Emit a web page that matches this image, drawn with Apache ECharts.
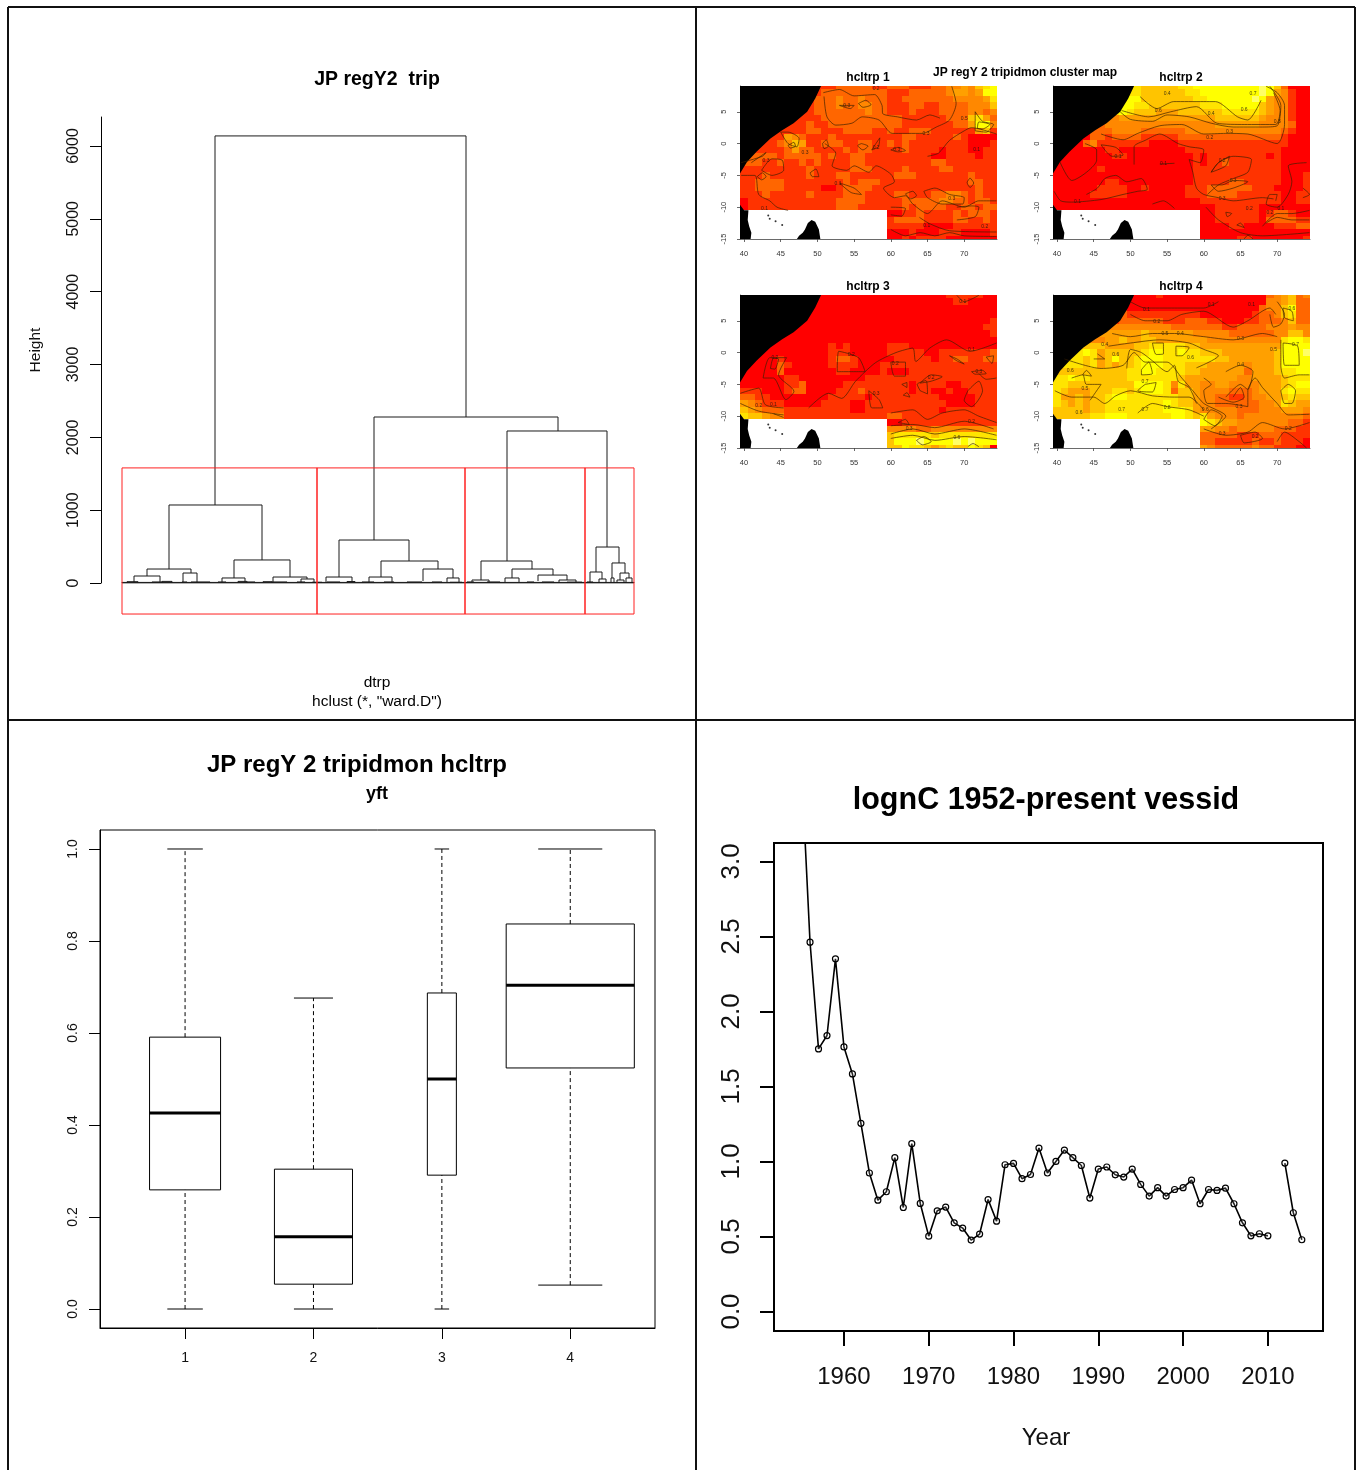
<!DOCTYPE html>
<html><head><meta charset="utf-8"><style>html,body{margin:0;padding:0;background:#fff}#c{width:1359px;height:1470px}</style>
<script src="https://cdn.jsdelivr.net/npm/echarts@6/dist/echarts.min.js"></script></head>
<body><div id="c"></div><script>
const FONT='"Liberation Sans",Arial,sans-serif';
/* ---------- dendrogram: [leftLeaf, rightLeaf, height, leftChildHeight, rightChildHeight] ---------- */
const dendroMerges=[
[93,344,6138,1071,2279],[47,140,1071,192,316],[252,436,2279,590,2087],[217,287,590,82,302],[385,485,2087,302,494],
[359,410,302,41,192],[474,497,494,151,275],[25,69,192,96,137],[12,38,96,14,14],[61,75,137,14,14],[112,168,316,69,82],
[100,123,69,14,14],[151,185,82,14,55],[179,192,55,10,10],[204,230,82,14,14],[259,316,302,82,192],[247,270,82,14,14],
[301,331,192,27,69],[325,337,69,14,14],[350,367,41,8,8],[390,431,192,69,109],[383,397,69,14,14],[416,445,109,27,41],
[437,454,41,8,8],[468,480,151,14,55],[490,503,275,69,137],[489,492,69,0,0],[498,507,137,41,69],[495,502,41,0,0],
[504,510,69,0,0],[465,471,14,0,0],[477,484,55,0,0],
[5,16,18,0,0],[30,40,14,0,0],[40,50,22,0,0],[60,65,14,0,0],[69,88,14,0,0],[96,104,14,0,0],[116,125,22,0,0],[125,133,14,0,0],
[141,150,18,0,0],[150,165,14,0,0],[175,183,14,0,0],[190,200,10,0,0],[205,218,14,0,0],[225,233,20,0,0],[240,252,14,0,0],
[262,272,14,0,0],[285,300,14,0,0],[310,320,14,0,0],[328,340,10,0,0],[345,352,14,0,0],[365,378,14,0,0],[405,412,14,0,0],
[420,432,14,0,0],[445,460,12,0,0],[0,512,2,0,0],[0,512,8,0,0]];
const dendroCuts=[0,195,343,463,512];
const dendroRectTop=1580, dendroRectBottom=-426;
/* ---------- boxplot ---------- */
const boxGroups=[1,2,3,4];
const boxMin=[0,0,0,0.052];
const boxQ1=[0.259,0.054,0.291,0.524];
const boxMedian=[0.426,0.157,0.5,0.704];
const boxQ3=[0.591,0.304,0.687,0.837];
const boxMax=[1,0.676,1,1];
const boxWidths=[0.553,0.608,0.226,0.998];
/* ---------- lognC ---------- */
const lognYears=[1955,1956,1957,1958,1959,1960,1961,1962,1963,1964,1965,1966,1967,1968,1969,1970,1971,1972,1973,1974,1975,1976,1977,1978,1979,1980,1981,1982,1983,1984,1985,1986,1987,1988,1989,1990,1991,1992,1993,1994,1995,1996,1997,1998,1999,2000,2001,2002,2003,2004,2005,2006,2007,2008,2009,2010,2011,2012,2013,2014];
const lognC=[3.62,2.461,1.75,1.839,2.35,1.763,1.583,1.254,0.923,0.742,0.798,1.025,0.693,1.118,0.72,0.502,0.671,0.696,0.591,0.556,0.476,0.516,0.746,0.602,0.978,0.987,0.885,0.913,1.089,0.923,1.0,1.076,1.025,0.973,0.756,0.949,0.963,0.911,0.896,0.949,0.847,0.769,0.825,0.769,0.813,0.825,0.876,0.718,0.813,0.807,0.822,0.718,0.591,0.504,0.518,0.504,null,0.989,0.658,0.478];
/* ---------- maps: rows from lat 9 down to lat -15, columns lon 40..74, digit = level ---------- */
const mapLevelColors={1:'#FF0000',2:'#FF3300',3:'#FF6600',4:'#FF8800',5:'#FFA000',6:'#FFC400',7:'#FFE400',8:'#FFFF00',9:'#FFFF66'};
const map1Rows=[
"..... ....2 22233 33322 33322 23344 54678","..... ...22 23333 33333 22233 33345 54588","..... ..222 33343 34333 22333 33334 44457",
"..... ..222 33343 34433 22233 22333 34446","..... .2222 33333 33433 22232 22333 34434","..... .2222 23333 33333 33222 22233 36753",
"..... 22223 22333 33333 33222 22223 35884","....2 22223 32223 33322 32233 32222 22562","...22 25432 22322 22222 22332 22223 21111",
"..222 34652 23332 23322 32322 22222 21112",".2222 23533 22223 23322 22322 22122 21122","33333 23333 32322 33222 22222 21122 22122",
"33322 32232 32222 33222 22222 23322 22222","22222 22223 22222 33322 22322 22332 22222","22232 22223 22233 22222 23332 22222 23222",
"22333 32222 22223 23332 22222 22222 23322","22333 32222 21123 33322 22222 22222 22322","22232 22223 22223 33222 23322 23344 32322",
"12222 22222 22233 33222 22333 33443 32332","12222 22222 22233 32222 22323 33322 33233","..... ..... ..... ..... 11223 22223 23332",
"..... ..... ..... ..... 23333 22223 32232","..... ..... ..... ..... 22222 11112 22222","..... ..... ..... ..... 11121 11222 11112",
"..... ..... ..... ..... 11212 22211 11111"];
const map2Rows=[
"..... ....7 77666 66778 88888 88898 63111","..... ...77 77666 66677 88888 88898 54211","..... ..777 88666 66667 78888 88985 44211",
"..... ..888 87766 66666 77788 88865 44211","..... .7778 76665 55666 66677 77765 44211","..... 44445 55555 55555 55666 66654 44211",
"....3 33444 44444 44444 44555 55544 44311","...33 33344 44333 33344 44444 44444 43211","..111 33233 33222 22333 33333 33333 32111",
".1113 42222 22211 11222 22222 22222 22111",".1111 11221 11111 11122 22222 22222 21111","11111 11122 11111 11112 12222 22221 21111",
"11111 11111 11111 11112 12232 22222 21111","11111 12111 11111 11112 22222 22222 21111","11111 11111 11111 11112 22222 22222 21112",
"11111 11221 11111 11112 22223 32222 21112","11111 12222 11211 11122 23333 33222 11112","11111 22222 11111 11122 23333 22222 21122",
"11111 11111 11111 11111 22222 22222 21122","11111 11111 11111 11111 11222 22211 11111","..... ..... ..... ..... 11222 22212 33211",
"..... ..... ..... ..... 11222 22213 33322","..... ..... ..... ..... 11112 21111 22233","..... ..... ..... ..... 11111 11111 11111",
"..... ..... ..... ..... 11111 22111 11112"];
const map3Rows=[
"..... ....1 11111 11111 11111 11122 22211","..... ...11 11111 11111 11111 11112 21111","..... ..111 11111 11111 11111 11111 11111",
"..... ..111 11111 11111 11111 11111 11111","..... .1111 11111 11111 11111 11111 11112","..... .1111 11111 11111 11111 11111 11122",
"..... 11111 11111 11111 11111 11111 11112","....1 11111 11111 11111 11111 11111 11111","...11 11111 11212 11111 22211 11111 11111",
"..111 11111 11222 11111 22222 11222 22223",".1111 21111 11233 21111 12222 21223 32233","11111 32111 11222 21112 22222 22222 22222",
"11111 31111 11122 11112 11122 22222 22222","11111 12211 11111 11222 22222 22222 22222","11111 12231 11112 22222 22212 22211 22222",
"22211 12331 11122 23222 22212 21121 12222","33221 11111 11222 22122 22222 22111 11222","54322 21111 12222 11222 22222 22211 11222",
"65433 32222 22222 11222 22222 22122 22222","76654 42222 22222 22222 33222 22222 22222","..... ..... ..... ..... 11222 22222 22222",
"..... ..... ..... ..... 44443 34444 44444","..... ..... ..... ..... 67777 76777 77777","..... ..... ..... ..... 68889 88889 89888",
"..... ..... ..... ..... 66877 65676 68761"];
const map4Rows=[
"..... ....1 11112 11111 11111 11113 45634","..... ...11 11111 11111 11111 11114 45633","..... ..222 11111 11111 11111 11134 46833",
"..... ..333 22222 22222 11111 11233 46733","..... .2223 33333 22233 32211 12233 34633","..... 44444 44444 43333 33322 33334 44544",
"....5 55555 55655 55554 44443 33333 44664","...44 44556 55665 55555 54444 44444 47887","..666 66555 56677 77766 55555 55555 58888",
".7778 75666 66788 77877 66655 55555 68889",".7776 75686 67888 77777 77665 55555 68888","77776 75656 67888 77766 65555 54555 68888",
"66666 66666 77887 77766 55555 53555 67788","77877 66666 77777 77655 55555 44555 56777","77666 66666 68888 74755 44554 44455 56788",
"76555 66677 67888 73665 44443 33455 57877","75565 66788 77777 77665 44332 23445 56766","76565 66777 77777 87665 44333 33344 57655",
"66665 66777 77777 88875 44444 33344 45554","66666 77888 77777 78876 75444 34444 44443","..... ..... ..... ..... 87655 44444 44332",
"..... ..... ..... ..... 55443 44444 33322","..... ..... ..... ..... 33333 22233 32222","..... ..... ..... ..... 33222 22322 32221",
"..... ..... ..... ..... 54333 33433 22211"];
const mapLons=[40,41,42,43,44,45,46,47,48,49,50,51,52,53,54,55,56,57,58,59,60,61,62,63,64,65,66,67,68,69,70,71,72,73,74];
const mapLats=[9,8,7,6,5,4,3,2,1,0,-1,-2,-3,-4,-5,-6,-7,-8,-9,-10,-11,-12,-13,-14,-15];
const mapLonTicks=[40,45,50,55,60,65,70];
const mapLatTicks=[-15,-10,-5,0,5];
const landPolygons=[
[[39.45,9.05],[50.5,9.05],[49.7,7.1],[48.6,5],[46.75,3.2],[45.2,2.1],[43.6,0.8],[41.7,-1.3],[40.4,-2.9],[39.45,-4.7]],
[[39.45,-9.6],[40,-10.5],[40.6,-10.5],[40.5,-12],[40.7,-13],[41,-14],[40.9,-15],[39.45,-15]],
[[47.2,-15],[47.5,-14.5],[48,-14],[48.3,-13.5],[48.7,-12.5],[49.2,-12],[49.7,-12.3],[50.2,-13.5],[50.4,-15]]];
const comoros=[[43.3,-11.3],[43.5,-11.8],[44.3,-12.2],[45.2,-12.8]];
const map1Contours=[
[[50.9,7.4],[51.3,4.2],[52.5,2.9],[54.7,3.2],[56.1,4.2],[58.4,3.7],[60.2,1.6],[64.3,1.6],[66.2,2.6],[68,3.7],[68.9,6.3],[68.3,9]],
[[50.8,8],[53,8.5],[55,7.5],[57.8,7.7],[58.8,6],[58.9,4.7],[60.9,4.2],[63.5,3.7],[65.3,4.5],[66.7,4]],
[[51,0],[52.5,-1.5],[52,-3.5],[54,-4.2],[55,-3.5],[57,-4.5],[58,-3.5],[60,-4.8],[60.5,-6],[59,-7],[60.5,-8.5],[62,-8.2],[63,-9.5],[65,-11],[67,-9],[70,-10],[72,-9],[74.4,-9]],
[[65,-2],[66.5,-1.5],[68,0.5],[70,2],[71,2.5],[74.4,1.5]],
[[39.6,-5],[41.5,-5],[42,-8],[43.5,-9],[44.5,-10],[46,-10.5]],
[[42.4,-4.2],[43.8,-2.4],[45.2,-2.6],[45.4,-4.2],[43.8,-5],[42.4,-4.2]],
[[63.9,-11.6],[65.3,-12.6],[68,-13.7],[74.4,-13.9]],
[[71.5,2],[71.5,3.5],[71.5,5],[72.5,3.5],[74,3],[73,1.8],[71.5,2]],
[[71.8,2.4],[72,3.4],[73.5,3],[72.5,2.3],[71.8,2.4]],
[[64.5,-7.5],[66,-7],[68,-8],[70,-8.5],[69.8,-9.5],[67,-9.5],[65,-8.5],[64.5,-7.5]],
[[45,1.8],[46,0],[47.2,-0.5],[47.5,0.8],[46,1.8],[45,1.8]],
[[46,-0.3],[46.8,0.2],[47,-0.4],[46.3,-0.7],[46,-0.3]],
[[55.6,6.3],[56.6,6.8],[57.3,6.1],[56.2,5.7],[55.6,6.3]],[[53,6],[55,6],[54.5,5.5],[53,6]],
[[56,0],[56.9,-0.4],[56.2,-1],[55.5,-0.3],[56,0]],[[50.7,0],[51.2,0.6],[51.5,-0.4],[50.9,-0.8],[50.7,0]],
[[60,-1],[61,-0.6],[62,-1.1],[61,-1.3],[60,-1]],[[57.4,-1],[58.3,-0.5],[58.5,0.9],[57.8,-0.3],[57.4,-1]],
[[41.8,-5.2],[42.5,-4.6],[43,-5.2],[42.4,-5.7],[41.8,-5.2]],[[39.6,-3],[42.5,-2],[43,-1.4],[41,-3]],
[[53,-6.2],[55,-7],[56,-8],[54.6,-7.7],[53,-6.2]],[[49,-4.6],[49.8,-4],[50.2,-5.2],[49.3,-5.2],[49,-4.6]],
[[70.8,-5.4],[71.3,-6.2],[70.8,-6.9],[70.4,-6.1],[70.8,-5.4]],[[62,-7.9],[63,-7.5],[63.5,-8.2],[62.7,-8.7],[62,-7.9]],
[[60,-10],[62,-10.2],[61.5,-11.4],[60,-11.2]],[[69,-10],[71,-9.8],[72,-10],[71.5,-11.5],[69,-12]],[[60,-13.5],[62,-14.5],[64,-14],[66,-14.5],[68,-14],[70,-14.5],[74.4,-14.6]]];
const map2Contours=[
[[51.3,7.4],[53.6,5.5],[55.9,6.6],[60,6.6],[61.6,6.6],[64.6,4.2],[66,3.7],[67.8,6.8]],
[[48.8,5.2],[52.5,4.2],[55.5,5],[59,5.8],[61.8,3.2],[65.5,3],[69.8,3],[70.4,5.2],[69.5,8]],
[[48.6,5],[50,3.8],[53,3.5],[55,4.5],[58,4.2],[61,3.2],[64,2.6],[68,2.6],[70,2.8],[70.5,6],[69,9]],
[[46,1.5],[49,0.6],[51,1.6],[54,2.8],[57,3],[60,1.5],[63,1.6],[66,1.5],[70,0],[71,3],[71,6],[70,8],[68.5,9]],
[[50.5,-3.3],[50.5,-0.5],[52,0.5],[54,1.5],[56.5,0],[58,-0.5],[60,-1],[59.5,-3],[58,-2.5],[58.5,-4.5],[59,-7],[60,-8],[62,-8.5],[64,-9],[68,-8.5],[69.5,-8.7]],
[[40.4,-2.9],[42,-5.8],[45.4,-2.6],[45.4,-1],[43.8,0]],[[46,-0.2],[48,-0.6],[49,-1.8],[47.5,-2],[46,-0.2]],
[[39.6,-7.5],[40.5,-9],[42,-9.2],[46,-8.8],[49,-8],[51,-7.5],[52.3,-7.2],[51.5,-5.5],[49.5,-6],[48,-5],[46.5,-5.5],[45.5,-7],[44,-8]],
[[60.5,-8],[62,-6.5],[64,-5.5],[66,-4.5],[66.5,-2.5],[64,-2],[62,-3],[61,-4.5]],
[[61,-6.5],[62.5,-6.5],[64,-5.8],[66,-6],[64,-7],[62,-7.5],[61,-6.5]],[[61,-4.5],[62,-3],[63.5,-2],[63,-3.5],[61,-4.5]],
[[74,-3],[71.5,-3.5],[72,-6],[71.5,-8],[70,-10],[68.5,-9.5],[69,-8],[70,-8],[69.8,-9]],
[[60.3,-10],[62,-12],[65,-14],[68,-14.5],[74.4,-14]],[[68,-13],[70,-11],[72,-11],[74.4,-10.5]],[[68.5,-12.5],[70,-11.6],[72,-12],[74.4,-12]],
[[63,-10.8],[63.8,-11],[63.2,-11.5],[63,-10.8]],[[64.5,-12.8],[65.5,-13.2],[65,-12.5],[64.5,-12.8]],[[65.5,-15],[66,-14.4],[66.7,-15]],
[[53,-9.5],[54.5,-9],[56,-10.2]],[[73.5,-7],[74.4,-8],[73.5,-8.5]],[[54,-3.2],[56,-3.1]]];
const map3Contours=[
[[48.8,-8.7],[51.5,-6.4],[53.3,-7.2],[55.2,-4.5],[57.9,-1.6],[60.7,0],[63,0.7],[63.4,-1.4],[65.3,0.7],[67.6,2],[70.8,0.2],[74.4,1.5]],
[[42.6,-4],[43.5,-0.8],[45.8,-0.8],[44.7,-3.5],[46.8,-6.1],[45.7,-7.4],[44,-4],[42.6,-4]],[[43.6,-2.5],[44,-0.9],[44.7,-1],[44.2,-2.6],[43.6,-2.5]],
[[52.7,-3],[52.9,0.2],[55.6,-0.8],[56.5,-3],[52.7,-3]],[[57,-6],[58.4,-7.4],[58.9,-8.7],[57.4,-8.7],[57,-6]],
[[39.5,-6.4],[42,-5.6],[42.9,-8.2],[45.4,-8.7]],[[39.5,-8],[42,-9.2],[45.4,-9.8]],[[44,-9.6],[45.4,-10.2]],
[[60,-11.5],[63,-11.3],[66,-11.8],[70,-10.8],[74,-12]],[[60,-12.8],[63,-12],[66,-12.8],[70,-12],[74.4,-13]],[[60,-13.5],[63,-13],[66,-13.8],[70,-13.2],[74.4,-13.7]],
[[60,-9.5],[63,-9],[65,-10.5],[67,-9.5],[70,-9],[72,-10],[74.4,-11]],[[61,-11],[62,-10.5],[62.5,-11.3],[61,-11]],
[[70.5,-6],[72,-4.5],[72.5,-6],[71,-8.5],[70,-7.5],[70.5,-6]],[[69,9],[70,8],[72,9]],[[68,-0.5],[69,-1],[70,-1.8],[69,-1.3],[68,-0.5]],
[[60,-1.5],[62,-1.5],[62,-3.7],[60.5,-3.7],[60,-1.5]],[[64,-4.8],[65.5,-3.5],[67,-3.8],[65.5,-4.5],[64,-4.8]],[[64,-6],[63.6,-5],[64.8,-4.4],[65,-6.5],[64,-6]],
[[71,-3],[72.5,-2.8],[73,-3.3],[71.5,-3.4],[71,-3]],[[72,-3.3],[73,-4.2],[74.4,-4]],[[73,-0.7],[74,-0.5],[73.8,-1.7],[73,-0.7]],[[61.5,-5],[62.2,-4.7],[62.2,-5.5],[61.5,-5]],[[61.7,-6.7],[62.2,-6.3],[62.6,-7],[61.7,-6.7]],
[[63.5,-13.8],[64.5,-13.2],[65.5,-14],[64.3,-14.5],[63.5,-13.8]],[[70.5,-14.8],[71.2,-14.3],[72,-14.8]]];
const map4Contours=[
[[50,8],[52,7],[56,7],[60,7],[62,8]],[[50,6],[52,5],[55,5],[57,6],[60,6.5],[64,4],[66,5],[69,7],[69.8,6]],
[[47.5,3],[50,2.5],[53,3],[56,3],[60,2.5],[64,2],[68,3],[70,2.5]],
[[47,1],[50,1.5],[54,2],[58,1.5],[60,0.5],[62,-0.5],[59,-2.4]],
[[41,-1],[46,-2.5],[49,-2],[50.5,0],[52,-1.5],[55,-1.5],[57,-4],[58.5,-6],[60,-8],[63,-10],[61,-12]],
[[49.5,-2.5],[50,0.5],[51.5,0],[53,-1.3],[55,-3],[56,-2],[56.5,-4.5],[58,-5.5],[59,-8]],
[[39.7,-6],[42,-7],[45,-7],[46.5,-8],[48,-6.8],[50,-6],[53,-6.8],[56,-7],[58,-7],[60,-9]],
[[51,-9.5],[53,-8],[55,-8.5],[58,-9],[60,-10]],[[42,-4],[43.5,-3.5],[44,-5],[46,-5],[44.5,-7.5]],
[[43.5,-3.5],[44,-2.8],[44.7,-3.7],[43.5,-3.5]],[[51.5,-2.7],[52.5,-1.5],[53,-3.3],[51.5,-3.5],[51.5,-2.7]],
[[53,1.5],[54.5,1.5],[54.5,-0.2],[53.5,-0.3],[53,1.5]],[[56.2,1],[58,0.8],[57,-0.5],[56.2,-0.5],[56.2,1]],[[52,-5],[53.5,-4.7],[53,-6.2],[51,-6],[52,-5]],
[[60,-4],[61,-5],[60,-6],[60.5,-8],[63,-8],[66,-8.5],[66,-6],[67,-4],[68,-5.5],[70,-8],[71.5,-9.8],[74.4,-9.7]],
[[62,-7],[64,-7.8],[65.5,-7],[65,-5.5],[64,-7]],[[60,-10.5],[61,-9],[62.5,-10],[61.5,-11.5],[60,-10.5]],
[[70.5,2],[70.5,-2],[71,-4],[73,-3.5],[74.4,-3.5]],[[70.8,1.5],[71,-2],[73,-2],[72.8,1],[70.8,1.5]],[[70.8,7],[72,6.5],[72.2,5],[71,5.5],[70.8,7]],
[[70,8],[71,6],[70.5,4.5],[69.5,4],[69,6]],[[70.5,-6],[71.5,-5],[72.5,-6],[72,-8],[71,-8],[70.5,-6]],[[60,-12],[63,-13],[66,-12.5],[68,-11],[71,-12],[74.4,-11]],
[[65,-13],[67,-12.5],[68,-13.5],[65.5,-14.2],[65,-13]],[[70,-14],[71,-12.5],[73,-14],[74,-15]],[[63,-7],[65,-5],[66,-5.8],[66.7,-3],[65,-2],[63,-3]],[[45,-1],[46.5,-1],[45.5,-0.2]]];
const map1Labels=[[54,5.9,"0.3"],[64.8,1.5,"0.3"],[58,-0.6,"0.2"],[60.8,-0.9,"0.3"],[43,-2.7,"0.3"],[48.3,-1.5,"0.3"],[52.8,-6.3,"0.1"],[68.3,-8.7,"0.3"],[71.7,-1,"0.1"],[42.8,-10.2,"0.1"],[64.9,-12.9,"0.1"],[72.8,-13,"0.2"],[58,8.6,"0.2"],[70,4,"0.5"]];
const map2Labels=[[55,7.9,"0.4"],[53.8,5.2,"0.6"],[61,4.7,"0.4"],[66.7,7.8,"0.7"],[65.5,5.4,"0.6"],[63.5,1.8,"0.3"],[60.8,1,"0.2"],[62.5,-2.7,"0.2"],[64,-5.9,"0.3"],[62.5,-8.6,"0.3"],[42.8,-9.1,"0.1"],[48.3,-2.1,"0.1"],[70,3.5,"0.3"],[70.5,-10.2,"0.1"],[69,-10.9,"0.2"],[66.2,-10.2,"0.2"],[54.5,-3.1,"0.1"]];
const map3Labels=[[69.8,8,"0.1"],[54.6,-0.4,"0.2"],[60.6,-1.7,"0.2"],[44.2,-0.8,"0.2"],[58,-6.5,"0.3"],[44,-8.2,"0.1"],[42,-8.4,"0.2"],[65.5,-4,"0.2"],[72,-3,"0.3"],[71,0.4,"0.1"],[62.5,-12,"0.3"],[69,-13.4,"0.6"],[71,-10.8,"0.2"]];
const map4Labels=[[52.2,6.8,"0.1"],[66.5,7.6,"0.1"],[61,7.5,"0.1"],[53.6,4.8,"0.2"],[65,2.2,"0.3"],[54.7,3,"0.5"],[56.8,2.9,"0.4"],[69.5,0.5,"0.5"],[58.2,-0.8,"0.6"],[48,-0.4,"0.6"],[41.8,-2.8,"0.6"],[46.5,1.2,"0.4"],[52,-4.6,"0.7"],[43.8,-5.7,"0.5"],[48.8,-9,"0.7"],[52,-8.9,"0.7"],[55,-8.7,"0.8"],[43,-9.4,"0.6"],[60.2,-9,"0.6"],[64.8,-8.5,"0.3"],[62.5,-12.8,"0.3"],[67,-13.2,"0.2"],[71.5,-12,"0.2"],[72,6.9,"0.6"],[72.5,1.2,"0.7"],[65,-1.9,"0.4"]];

/* ---------- layout ---------- */
const grids=[],xAxes=[],yAxes=[],series=[],titles=[];
function px(l,t,r,b){return {left:l,top:t,width:r-l,height:b-t,containLabel:false};}
function addTitle(text,x,yTop,size,weight){titles.push({text,left:x,top:yTop,textAlign:'center',padding:0,textStyle:{fontFamily:FONT,fontSize:size,fontWeight:weight||'normal',color:'#000'}});}
const lineBlack={color:'#000',width:1};
function axisCommon(values,opts){
  return Object.assign({type:'value',splitLine:{show:false},axisLine:{show:true,onZero:false,lineStyle:lineBlack},
    axisTick:{show:true,length:opts.tick,lineStyle:lineBlack,customValues:values},
    axisLabel:{show:true,customValues:values,fontFamily:FONT,fontSize:opts.font,color:opts.color||'#111',margin:opts.margin,rotate:opts.rotate||0,
      hideOverlap:false,formatter:opts.fmt||(v=>String(v))}},opts.extra||{});
}
/* dendrogram */
grids.push(px(122,117,634,583));
xAxes.push({type:'value',min:0,max:512,show:false,gridIndex:0});
yAxes.push(axisCommon([0,1000,2000,3000,4000,5000,6000],{tick:11,font:16,margin:19,rotate:90,extra:{gridIndex:0,min:0,max:6398,offset:21,name:'Height',nameLocation:'middle',nameGap:57,nameRotate:90,nameTextStyle:{fontFamily:FONT,fontSize:15.5,color:'#111'}}}));
series.push({type:'custom',name:'dendrogram',xAxisIndex:0,yAxisIndex:0,coordinateSystem:'cartesian2d',clip:false,silent:true,
  data:dendroMerges,encode:{x:[0,1],y:2},
  renderItem(p,api){
    const a=api.coord([api.value(0),api.value(3)]),b=api.coord([api.value(0),api.value(2)]),c=api.coord([api.value(1),api.value(2)]),d=api.coord([api.value(1),api.value(4)]);
    return {type:'polyline',shape:{points:[a,b,c,d]},style:{stroke:'#1a1a1a',lineWidth:1,fill:null}};
  }});
series.push({type:'custom',name:'cutRects',xAxisIndex:0,yAxisIndex:0,coordinateSystem:'cartesian2d',clip:false,silent:true,
  data:dendroCuts.slice(0,-1).map((v,i)=>[v,dendroCuts[i+1],dendroRectBottom,dendroRectTop]),encode:{x:[0,1],y:[2,3]},
  renderItem(p,api){
    const a=api.coord([api.value(0),api.value(3)]),b=api.coord([api.value(1),api.value(2)]);
    return {type:'rect',shape:{x:a[0],y:a[1],width:b[0]-a[0],height:b[1]-a[1]},style:{stroke:'#ff2020',fill:null,lineWidth:1}};
  }});
/* boxplot */
grids.push(Object.assign(px(100,830,655,1328),{show:true,borderColor:'#000',borderWidth:1,backgroundColor:'#fff'}));
xAxes.push(axisCommon(boxGroups,{tick:11,font:14,margin:23,extra:{gridIndex:1,min:0.3375,max:4.66}}));
yAxes.push(axisCommon([0,0.2,0.4,0.6,0.8,1],{tick:11,font:14,margin:20,rotate:90,fmt:v=>v.toFixed(1),extra:{gridIndex:1,min:-0.0413,max:1.0413}}));
series.push({type:'custom',name:'boxes',xAxisIndex:1,yAxisIndex:1,coordinateSystem:'cartesian2d',silent:true,
  data:boxGroups.map((g,i)=>[g,boxMin[i],boxQ1[i],boxMedian[i],boxQ3[i],boxMax[i],boxWidths[i]]),encode:{x:0,y:[1,2,3,4,5]},
  renderItem(p,api){
    const g=api.value(0),w=api.value(6),P=(x,y)=>api.coord([x,y]);
    const seg=(a,b,style)=>({type:'line',shape:{x1:a[0],y1:a[1],x2:b[0],y2:b[1]},style:Object.assign({stroke:'#000',lineWidth:1},style||{})});
    const tl=P(g-w/2,api.value(4)),br=P(g+w/2,api.value(2));
    return {type:'group',children:[
      seg(P(g,api.value(1)),P(g,api.value(2)),{lineDash:[4,3]}),seg(P(g,api.value(4)),P(g,api.value(5)),{lineDash:[4,3]}),
      seg(P(g-w/4,api.value(1)),P(g+w/4,api.value(1))),seg(P(g-w/4,api.value(5)),P(g+w/4,api.value(5))),
      {type:'rect',shape:{x:tl[0],y:tl[1],width:br[0]-tl[0],height:br[1]-tl[1]},style:{stroke:'#000',fill:null,lineWidth:1}},
      seg(P(g-w/2,api.value(3)),P(g+w/2,api.value(3)),{lineWidth:3})]};
  }});
/* lognC */
grids.push(Object.assign(px(774,843,1323,1331),{show:true,borderColor:'#000',borderWidth:2}));
xAxes.push(axisCommon([1960,1970,1980,1990,2000,2010],{tick:15,font:24,margin:34,extra:{gridIndex:2,min:1951.75,max:2016.5,axisLine:{show:true,onZero:false,lineStyle:{color:'#000',width:2}},name:'Year',nameLocation:'middle',nameGap:95,nameTextStyle:{fontFamily:FONT,fontSize:24,color:'#111',padding:[0,5,0,0]}}}));
xAxes[2].axisLabel.formatter=v=>String(v);xAxes[2].axisTick.lineStyle={color:'#000',width:2};
yAxes.push(axisCommon([0,0.5,1,1.5,2,2.5,3],{tick:14,font:26,margin:29,rotate:90,fmt:v=>v.toFixed(1),extra:{gridIndex:2,min:-0.13,max:3.122,axisLine:{show:true,onZero:false,lineStyle:{color:'#000',width:2}}}}));
yAxes[2].axisTick.lineStyle={color:'#000',width:2};
series.push({type:'line',name:'lognC',xAxisIndex:2,yAxisIndex:2,silent:true,animation:false,clip:true,connectNulls:false,
  data:lognYears.map((y,i)=>[y,lognC[i]===null?'-':lognC[i]]),
  lineStyle:{color:'#000',width:1.6},symbol:'circle',symbolSize:6,showAllSymbol:true,
  itemStyle:{color:'rgba(255,255,255,0.15)',borderColor:'#000',borderWidth:1.2}});
/* maps */
const mapBoxes=[[740,86,997,239],[1053,86,1310,239],[740,295,997,448],[1053,295,1310,448]];
const mapRows=[map1Rows,map2Rows,map3Rows,map4Rows];
const mapContours=[map1Contours,map2Contours,map3Contours,map4Contours];
const mapLabels=[map1Labels,map2Labels,map3Labels,map4Labels];
mapBoxes.forEach((b,m)=>{
  const gi=3+m; grids.push(px(b[0],b[1],b[2],b[3]));
  const small={tick:3,font:7.5,color:'#333'};
  xAxes.push(axisCommon(mapLonTicks,Object.assign({},small,{margin:11,extra:{gridIndex:gi,min:39.45,max:74.47}})));
  yAxes.push(axisCommon(mapLatTicks,Object.assign({},small,{margin:12,rotate:90,extra:{gridIndex:gi,min:-15,max:9.05}})));
  xAxes[gi].axisLine.lineStyle={color:'#444',width:0.8};xAxes[gi].axisTick.lineStyle={color:'#444',width:0.8};
  yAxes[gi].axisLine.lineStyle={color:'#444',width:0.8};yAxes[gi].axisTick.lineStyle={color:'#444',width:0.8};
  const cells=[];
  mapRows[m].forEach((r,ri)=>{const s=r.replace(/ /g,'');for(let c=0;c<s.length;c++){if(s[c]!=='.')cells.push([mapLons[c],mapLats[ri],+s[c]]);}});
  series.push({type:'custom',name:'heat'+(m+1),xAxisIndex:gi,yAxisIndex:gi,coordinateSystem:'cartesian2d',clip:true,silent:true,data:cells,encode:{x:0,y:1},
    renderItem(p,api){const a=api.coord([api.value(0)-0.5,api.value(1)+0.5]),z=api.coord([api.value(0)+0.5,api.value(1)-0.5]);
      const x0=Math.round(a[0]),y0=Math.round(a[1]),x1=Math.round(z[0]),y1=Math.round(z[1]);
      return {type:'rect',shape:{x:x0,y:y0,width:x1-x0,height:y1-y0},style:{fill:mapLevelColors[api.value(2)],stroke:null}};}});
  const lineData=[];
  mapContours[m].forEach(c=>{c.forEach(pt=>lineData.push(pt));lineData.push(['-','-']);});
  series.push({type:'line',name:'contour'+(m+1),xAxisIndex:gi,yAxisIndex:gi,silent:true,clip:true,symbol:'none',smooth:0.25,connectNulls:false,data:lineData,lineStyle:{color:'#3a2000',width:0.8,opacity:0.85}});
  series.push({type:'custom',name:'land'+(m+1),xAxisIndex:gi,yAxisIndex:gi,coordinateSystem:'cartesian2d',clip:true,silent:true,data:landPolygons.map((l,i)=>[l[0][0],l[0][1],i]),encode:{x:0,y:1},
    renderItem(p,api){return {type:'polygon',shape:{points:landPolygons[api.value(2)].map(q=>api.coord(q))},style:{fill:'#000'}};}});
  series.push({type:'scatter',name:'islands'+(m+1),xAxisIndex:gi,yAxisIndex:gi,silent:true,symbolSize:2,data:comoros,itemStyle:{color:'#000'}});
  series.push({type:'scatter',name:'labels'+(m+1),xAxisIndex:gi,yAxisIndex:gi,silent:true,symbolSize:0,data:mapLabels[m].map(l=>({value:[l[0],l[1]],name:l[2]})),
    label:{show:true,position:'inside',formatter:'{b}',fontFamily:FONT,fontSize:5,color:'#111'}});
});
/* titles */
addTitle('JP regY2  trip',377,70,19.5,'bold');
addTitle('dtrp',377,675,15.5);
addTitle('hclust (*, "ward.D")',377,694,15.5);
addTitle('JP regY 2 tripidmon cluster map',1025,67,12,'bold');
[['hcltrp 1',868,72],['hcltrp 2',1181,72],['hcltrp 3',868,281],['hcltrp 4',1181,281]].forEach(t=>addTitle(t[0],t[1],t[2],12,'bold'));
addTitle('JP regY 2 tripidmon hcltrp',357,753,24,'bold');
addTitle('yft',377,785,18,'bold');
addTitle('lognC 1952-present vessid',1046,785,30.5,'bold');

const frame=[[8,7,1355,7],[8,720,1355,720],[8,7,8,1470],[696,7,696,1470],[1355,7,1355,1470]];
const chart=echarts.init(document.getElementById('c'),null,{renderer:'canvas',width:1359,height:1470});
chart.setOption({animation:false,backgroundColor:'#fff',title:titles,grid:grids,xAxis:xAxes,yAxis:yAxes,series,tooltip:{show:false},
  graphic:{elements:frame.map(f=>({type:'line',silent:true,shape:{x1:f[0],y1:f[1],x2:f[2],y2:f[3]},style:{stroke:'#111',lineWidth:2}}))}});
</script></body></html>
